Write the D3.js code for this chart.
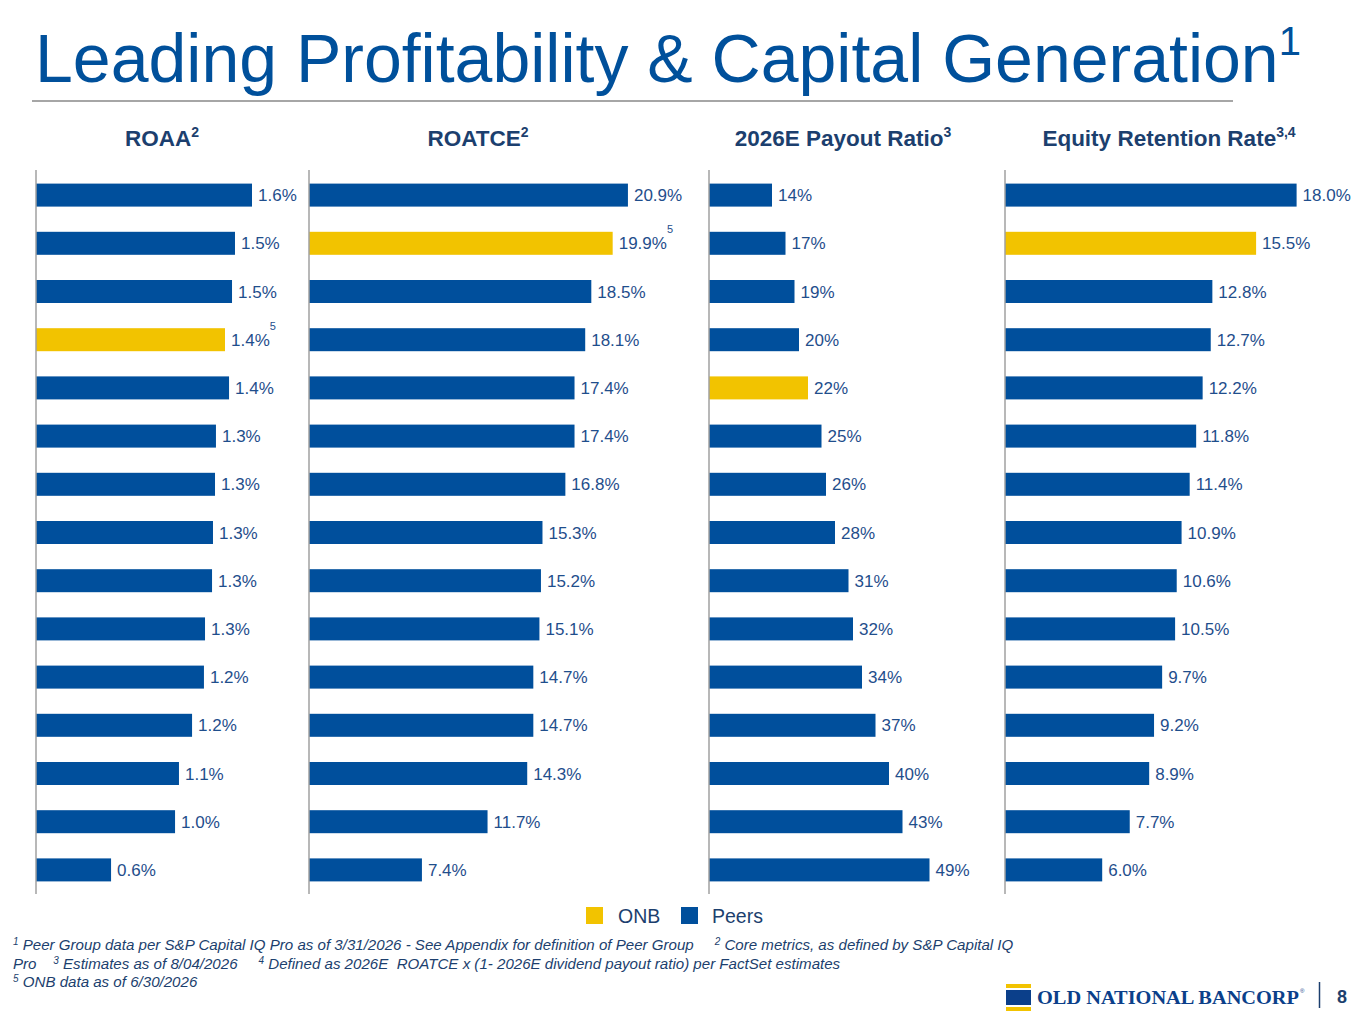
<!DOCTYPE html>
<html><head><meta charset="utf-8">
<script src="https://cdn.jsdelivr.net/npm/d3@7"></script>
<style>
body{margin:0;background:#fff;}
svg{display:block;font-family:"Liberation Sans",Arial,sans-serif;}
</style></head>
<body>
<script>
// ---- DATA ----
const roaaValues   = [1.60,1.474,1.452,1.40,1.43,1.333,1.326,1.311,1.304,1.252,1.244,1.156,1.059,1.03,0.556];
const roaaLabels   = ["1.6%","1.5%","1.5%","1.4%","1.4%","1.3%","1.3%","1.3%","1.3%","1.3%","1.2%","1.2%","1.1%","1.0%","0.6%"];
const roaaOnb = 3;

const roatceValues = [20.9,19.9,18.5,18.1,17.4,17.4,16.8,15.3,15.2,15.1,14.7,14.7,14.3,11.7,7.4];
const roatceLabels = roatceValues.map(v=>v.toFixed(1)+"%");
const roatceOnb = 1;

const payoutValues = [14,17,19,20,22,25,26,28,31,32,34,37,40,43,49];
const payoutLabels = payoutValues.map(v=>v+"%");
const payoutOnb = 4;

const retentionValues = [18.0,15.5,12.8,12.7,12.2,11.8,11.4,10.9,10.6,10.5,9.7,9.2,8.9,7.7,6.0];
const retentionLabels = retentionValues.map(v=>v.toFixed(1)+"%");
const retentionOnb = 1;

const panelTitles = ["ROAA","ROATCE","2026E Payout Ratio","Equity Retention Rate"];
const panelTitleSups = ["2","2","3","3,4"];
const legendItems = ["ONB","Peers"];

// ---- STYLE ----
const BLUE="#004f9c", GOLD="#f2c300", NAVY="#1c3f6e", LABEL="#1f4e8c", TITLE="#00509b";

const W=1365,H=1024;
const svg=d3.select("body").append("svg").attr("width",W).attr("height",H);

// Title
const t=svg.append("text").attr("x",35).attr("y",82).attr("fill",TITLE)
  .style("font-size","68px");
t.append("tspan").text("Leading Profitability & Capital Generation");
t.append("tspan").attr("dy",-27).style("font-size","40px").text("1");
svg.append("line").attr("x1",32).attr("x2",1233).attr("y1",101).attr("y2",101)
  .attr("stroke","#a6a6a6").attr("stroke-width",2);

const panels=[
 {vals:roaaValues,labels:roaaLabels,onb:roaaOnb,x0:36,dom:2.0,rng:270,hx:162,sup:{row:3}},
 {vals:roatceValues,labels:roatceLabels,onb:roatceOnb,x0:309,dom:25,rng:381.5,hx:478,sup:{row:1}},
 {vals:payoutValues,labels:payoutLabels,onb:payoutOnb,x0:709,dom:60,rng:270,hx:843,sup:null},
 {vals:retentionValues,labels:retentionLabels,onb:retentionOnb,x0:1005,dom:20,rng:324,hx:1169,sup:null}
];

const y=d3.scaleBand().domain(d3.range(15)).range([171,894]);
const barH=23;

panels.forEach((p,i)=>{
  const x=d3.scaleLinear().domain([0,p.dom]).range([p.x0,p.x0+p.rng]);
  const g=svg.append("g");
  // header
  const ht=g.append("text").attr("x",p.hx).attr("y",146).attr("text-anchor","middle")
    .attr("fill",NAVY).style("font-size","22.5px").style("font-weight","bold");
  ht.append("tspan").text(panelTitles[i]);
  ht.append("tspan").attr("dy",-9).style("font-size","14px").text(panelTitleSups[i]);
  // bars
  g.selectAll("rect.bar").data(p.vals).join("rect").attr("class","bar")
    .attr("x",x(0)).attr("width",d=>x(d)-x(0))
    .attr("y",(d,j)=>y(j)+y.bandwidth()/2-barH/2).attr("height",barH)
    .attr("fill",(d,j)=>j===p.onb?GOLD:BLUE);
  // axis
  const ax=d3.axisLeft(y).tickSize(0).tickFormat("");
  const axg=g.append("g").attr("transform",`translate(${x(0)},0)`).call(ax);
  axg.select(".domain").attr("stroke","#a0a0a0").attr("stroke-width",1.5)
     .attr("d",`M0,170V894`);
  // labels
  g.selectAll("text.val").data(p.vals).join("text").attr("class","val")
    .attr("x",d=>x(d)+6).attr("y",(d,j)=>y(j)+y.bandwidth()/2+6)
    .attr("fill",LABEL).style("font-size","17px")
    .text((d,j)=>p.labels[j]);
  if(p.sup){
    const j=p.sup.row, d=p.vals[j];
    const w=p.labels[j].length*9.45;
    g.append("text").attr("x",x(d)+6+w+1).attr("y",y(j)+y.bandwidth()/2-10)
      .attr("fill",LABEL).style("font-size","11px").text("5");
  }
});

// Legend
const lg=svg.append("g");
lg.append("rect").attr("x",586).attr("y",907).attr("width",17).attr("height",17).attr("fill",GOLD);
lg.append("text").attr("x",618).attr("y",923).attr("fill",NAVY).style("font-size","19.5px").text(legendItems[0]);
lg.append("rect").attr("x",681).attr("y",907).attr("width",17).attr("height",17).attr("fill",BLUE);
lg.append("text").attr("x",712).attr("y",923).attr("fill",NAVY).style("font-size","19.5px").text(legendItems[1]);

// Footnotes
const fn=[
 [["1"," Peer Group data per S&P Capital IQ Pro as of 3/31/2026 - See Appendix for definition of Peer Group     "],["2"," Core metrics, as defined by S&P Capital IQ"]],
 [[""," Pro    "],["3"," Estimates as of 8/04/2026     "],["4"," Defined as 2026E  ROATCE x (1- 2026E dividend payout ratio) per FactSet estimates"]],
 [["5"," ONB data as of 6/30/2026"]]
];
fn.forEach((line,k)=>{
  const tx=svg.append("text").attr("x",13).attr("y",950+k*18.5).attr("fill",NAVY)
    .style("font-size","15.1px").style("font-style","italic").attr("xml:space","preserve");
  line.forEach(([s,txt],m)=>{
    if(s){tx.append("tspan").attr("dy",-5).style("font-size","10px").text(s);
          tx.append("tspan").attr("dy",5).text(txt);}
    else tx.append("tspan").text(txt.trimStart());
  });
});

// Logo
const lo=svg.append("g");
lo.append("rect").attr("x",1006).attr("y",984).attr("width",25).attr("height",4).attr("fill",GOLD);
lo.append("rect").attr("x",1006).attr("y",990).attr("width",25).attr("height",15).attr("fill","#0b3f8a");
lo.append("rect").attr("x",1006).attr("y",1007).attr("width",25).attr("height",4).attr("fill",GOLD);
lo.append("text").attr("x",1037).attr("y",1004).attr("fill","#0b3f8a")
  .style("font-family","'Liberation Serif','DejaVu Serif',serif").style("font-weight","bold").style("font-size","19.5px")
  .attr("textLength",262).attr("lengthAdjust","spacingAndGlyphs").text("OLD NATIONAL BANCORP");
lo.append("text").attr("x",1300).attr("y",993).attr("fill","#0b3f8a").style("font-size","6px").text("®");
lo.append("line").attr("x1",1319.5).attr("x2",1319.5).attr("y1",982).attr("y2",1008).attr("stroke","#1c3f6e").attr("stroke-width",1.5);
lo.append("text").attr("x",1337).attr("y",1003).attr("fill","#1c3f6e").style("font-size","18px").style("font-weight","bold").text("8");
</script>
</body></html>
